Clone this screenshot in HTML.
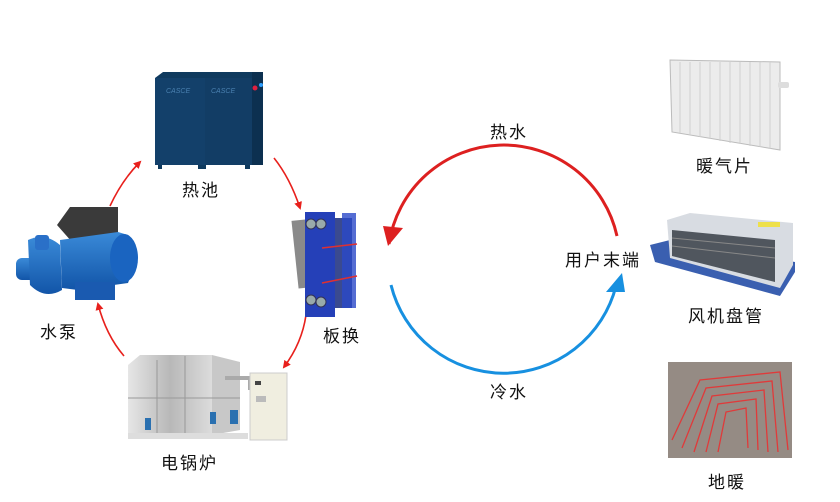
<!DOCTYPE html>
<html><head><meta charset="utf-8"><style>
body{margin:0;background:#fff;width:840px;height:502px;overflow:hidden;position:relative;font-family:"Liberation Sans","Noto Sans CJK SC",sans-serif}
.l{position:absolute;font-size:17px;color:#111;letter-spacing:2px;white-space:nowrap}
svg{position:absolute;left:0;top:0}
</style></head><body>
<svg width="840" height="502" viewBox="0 0 840 502">
<defs>
<marker id="rs" markerWidth="8" markerHeight="8" refX="6" refY="4" orient="auto" markerUnits="userSpaceOnUse"><path d="M0,0 L8,4 L0,8 Z" fill="#e8201c"/></marker>
<linearGradient id="pb" x1="0" x2="0" y1="0" y2="1"><stop offset="0" stop-color="#3a8ad8"/><stop offset="1" stop-color="#1255a8"/></linearGradient>
<linearGradient id="st" x1="0" x2="1"><stop offset="0" stop-color="#e6e6e6"/><stop offset=".5" stop-color="#b8b8b8"/><stop offset="1" stop-color="#dcdcdc"/></linearGradient>
</defs>
<path d="M110,206 Q122,180 140,162" fill="none" stroke="#e8201c" stroke-width="1.6" marker-end="url(#rs)"/>
<path d="M274,158 Q290,178 300,208" fill="none" stroke="#e8201c" stroke-width="1.6" marker-end="url(#rs)"/>
<path d="M306,315 Q302,343 284,367" fill="none" stroke="#e8201c" stroke-width="1.6" marker-end="url(#rs)"/>
<path d="M124,356 Q106,335 98,304" fill="none" stroke="#e8201c" stroke-width="1.6" marker-end="url(#rs)"/>
<path d="M617,236 A116,116 0 0 0 389,244" fill="none" stroke="#dd2020" stroke-width="3"/>
<path d="M383,226 L403,228 L388,246 Z" fill="#dd2020"/>
<path d="M391,285 A116,116 0 0 0 616,286" fill="none" stroke="#1790e0" stroke-width="3"/>
<path d="M606,292 L622,273 L625,292 Z" fill="#1790e0"/>
<path d="M155,78 L163,72 L263,72 L263,165 L155,165 Z" fill="#0f3a5e"/>
<rect x="155" y="78" width="50" height="87" fill="#13406a"/>
<rect x="205" y="78" width="47" height="87" fill="#123d65"/>
<rect x="252" y="72" width="11" height="93" fill="#0c3050"/>
<circle cx="255" cy="88" r="2.5" fill="#e02040"/><circle cx="261" cy="85" r="2" fill="#30a0ff"/>
<text x="166" y="93" font-size="7" fill="#4a80b0" font-style="italic">CASCE</text>
<text x="211" y="93" font-size="7" fill="#4a80b0" font-style="italic">CASCE</text>
<rect x="158" y="165" width="4" height="4" fill="#0f3a5e"/><rect x="198" y="165" width="8" height="4" fill="#0f3a5e"/><rect x="245" y="165" width="5" height="4" fill="#0f3a5e"/>
<rect x="295" y="220" width="15" height="68" fill="#8a8a8a" transform="rotate(-6 302 254)"/>
<rect x="305" y="212" width="30" height="105" fill="#2540b8"/>
<rect x="335" y="218" width="17" height="90" fill="#3a4a90"/>
<rect x="342" y="213" width="14" height="95" fill="#2a48c8" opacity=".8"/>
<circle cx="311" cy="224" r="5" fill="#9aa" stroke="#335" /><circle cx="321" cy="224" r="5" fill="#9aa" stroke="#335"/>
<circle cx="311" cy="300" r="5" fill="#9aa" stroke="#335"/><circle cx="321" cy="302" r="5" fill="#9aa" stroke="#335"/>
<line x1="322" y1="248" x2="357" y2="244" stroke="#e03030" stroke-width="1.5"/><line x1="322" y1="283" x2="357" y2="276" stroke="#e03030" stroke-width="1.5"/>
<rect x="16" y="258" width="24" height="22" rx="6" fill="url(#pb)"/>
<path d="M28,240 Q45,232 60,245 L62,290 Q45,300 30,285 Z" fill="url(#pb)"/>
<rect x="35" y="235" width="14" height="15" rx="3" fill="#2a70c8"/>
<path d="M57,225 L70,207 L118,207 L118,234 L72,242 Z" fill="#3a3a3a"/>
<path d="M60,240 L118,232 L128,235 Q140,255 128,283 L78,290 L62,288 Z" fill="url(#pb)"/>
<ellipse cx="124" cy="258" rx="14" ry="24" fill="#1a64c0"/>
<rect x="75" y="282" width="40" height="18" fill="#1a5ab0"/>
<path d="M128,365 L140,355 L212,355 L212,435 L128,435 Z" fill="url(#st)"/>
<path d="M212,355 L240,362 L240,430 L212,435 Z" fill="#c8c8c8"/>
<line x1="128" y1="398" x2="240" y2="398" stroke="#999"/><line x1="157" y1="360" x2="157" y2="435" stroke="#999"/><line x1="185" y1="356" x2="185" y2="435" stroke="#999"/>
<rect x="128" y="433" width="120" height="6" fill="#ddd"/>
<path d="M225,378 L250,378 L250,390" fill="none" stroke="#aaa" stroke-width="4"/>
<rect x="145" y="418" width="6" height="12" fill="#2a70b0"/><rect x="230" y="410" width="8" height="14" fill="#2a70b0"/><rect x="210" y="412" width="6" height="12" fill="#2a70b0"/>
<rect x="250" y="373" width="37" height="67" fill="#f0eee0" stroke="#ccc"/>
<rect x="255" y="381" width="6" height="4" fill="#444"/><rect x="256" y="396" width="10" height="6" fill="#bbb"/>
<!-- radiator -->
<path d="M670,60 L780,62 L780,150 L672,132 Z" fill="#ececec" stroke="#bbb"/>
<g stroke="#cfcfcf" stroke-width="1">
<line x1="680" y1="62" x2="680" y2="133"/><line x1="690" y1="62" x2="690" y2="135"/><line x1="700" y1="62" x2="700" y2="137"/><line x1="710" y1="62" x2="710" y2="139"/><line x1="720" y1="62" x2="720" y2="141"/><line x1="730" y1="62" x2="730" y2="143"/><line x1="740" y1="62" x2="740" y2="144"/><line x1="750" y1="62" x2="750" y2="146"/><line x1="760" y1="62" x2="760" y2="147"/><line x1="770" y1="62" x2="770" y2="149"/></g>
<rect x="778" y="82" width="11" height="6" rx="2" fill="#ddd"/>
<!-- fan coil -->
<path d="M650,245 L670,240 L795,262 L795,272 L780,296 L655,262 Z" fill="#3a5fb0"/>
<path d="M667,220 L690,213 L793,223 L793,265 L780,288 L670,258 Z" fill="#d8dce2"/>
<path d="M672,230 L775,240 L775,282 L672,256 Z" fill="#50565e"/>
<g stroke="#888" stroke-width="1"><line x1="672" y1="238" x2="775" y2="248"/><line x1="672" y1="246" x2="775" y2="258"/></g>
<rect x="758" y="222" width="22" height="5" fill="#eee04a"/>
<!-- floor heating -->
<rect x="668" y="362" width="124" height="96" fill="#958b84"/>
<g fill="none" stroke="#e03a3a" stroke-width="1.3">
<path d="M672,440 L700,380 L780,372 L788,450"/><path d="M682,448 L706,388 L772,381 L778,452"/><path d="M694,452 L712,396 L764,390 L768,452"/><path d="M706,452 L718,404 L756,399 L758,450"/><path d="M718,452 L726,412 L746,408 L748,448"/>
</g>
</svg>
<div class="l" style="left:182px;top:176px">热池</div>
<div class="l" style="left:323px;top:322px">板换</div>
<div class="l" style="left:40px;top:318px">水泵</div>
<div class="l" style="left:161px;top:449px">电锅炉</div>
<div class="l" style="left:490px;top:118px">热水</div>
<div class="l" style="left:490px;top:378px">冷水</div>
<div class="l" style="left:565px;top:246px">用户末端</div>
<div class="l" style="left:696px;top:152px">暖气片</div>
<div class="l" style="left:688px;top:302px">风机盘管</div>
<div class="l" style="left:708px;top:468px">地暖</div>
</body></html>
